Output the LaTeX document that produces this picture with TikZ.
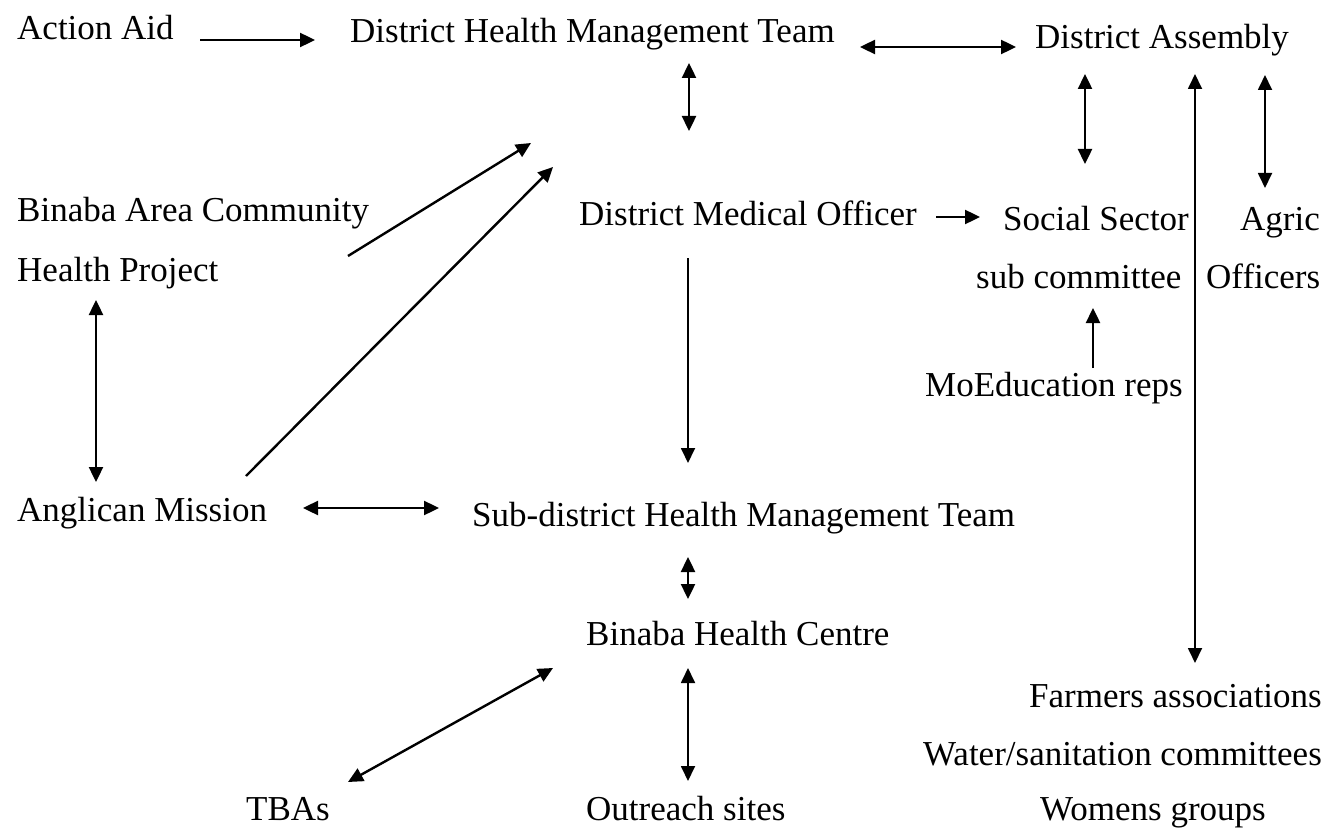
\documentclass[tikz,border=0pt]{standalone}
\usepackage{fontspec}
\setmainfont{Liberation Serif}
\usetikzlibrary{arrows.meta}
\begin{document}
\begin{tikzpicture}[x=1pt,y=-1pt,
  lbl/.style={inner sep=0pt,anchor=base west,font=\fontsize{35}{40}\selectfont},
  lblr/.style={lbl,anchor=base east},
  tip/.style={line width=2.4pt},
  one/.style={tip,-{Triangle[length=15pt,width=14pt]}},
  two/.style={tip,{Triangle[length=15pt,width=14pt]}-{Triangle[length=15pt,width=14pt]}},
  thin/.style={line width=1.8pt}]
\useasboundingbox (0,0) rectangle (1331,832);
% labels
\node[lbl] (aa)   at (17,40)   {Action Aid};
\node[lbl] (dhmt) at (350,43)  {District Health Management Team};
\node[lbl] (da)   at (1035,49) {District Assembly};
\node[lbl] (bac)  at (17,221)  {Binaba Area Community};
\node[lbl] (hp)   at (17,281)  {Health Project};
\node[lbl] (dmo)  at (579,225) {District Medical Officer};
\node[lbl] (ss)   at (1003,230){Social Sector};
\node[lbl] (agric) at (1240,230){Agric};
\node[lbl] (subc) at (976,288) {sub committee};
\node[lbl] (off)  at (1206,288){Officers};
\node[lbl] (moe)  at (925,396) {MoEducation reps};
\node[lbl] (am)   at (17,521)  {Anglican Mission};
\node[lbl] (sd)   at (472,526) {Sub-district Health Management Team};
\node[lbl] (bhc)  at (586,645) {Binaba Health Centre};
\node[lbl] (tba)  at (246,820) {TBAs};
\node[lbl] (out)  at (586,820) {Outreach sites};
\node[lblr] (farm) at (1322,707) {Farmers associations};
\node[lblr] (wat)  at (1322,765) {Water/sanitation committees};
\node[lbl] (wom)  at (1040,820) {Womens groups};
% connector end points
\coordinate (aaE) at (200,40);   \coordinate (dhmtW) at (315,40);
\coordinate (dhmtE) at (860,47); \coordinate (daW) at (1016,47);
\coordinate (dhmtS) at (689,63); \coordinate (dmoN) at (689,131);
\coordinate (bacE) at (348,256); \coordinate (dhmtA) at (531,143);
\coordinate (amNE) at (246,476); \coordinate (dhmtB) at (553,167);
\coordinate (hpS) at (96,300);   \coordinate (amN) at (96,482);
\coordinate (amE) at (303,508);  \coordinate (sdW) at (439,508);
\coordinate (dmoS) at (688,258); \coordinate (sdN) at (688,463);
\coordinate (dmoE) at (936,217); \coordinate (ssW) at (980,217);
\coordinate (daS1) at (1085,74); \coordinate (ssN) at (1085,164);
\coordinate (daS2) at (1195,74); \coordinate (farmN) at (1195,663);
\coordinate (daS3) at (1265,75); \coordinate (agricN) at (1265,188);
\coordinate (moeN) at (1093,368); \coordinate (subcS) at (1093,308);
\coordinate (sdS) at (688,557);  \coordinate (bhcN) at (688,599);
\coordinate (bhcS) at (688,668); \coordinate (outN) at (688,781);
\coordinate (tbaN) at (348,782); \coordinate (bhcW) at (553,668);
% connectors
\draw[one] (aaE) -- (dhmtW);
\draw[two] (dhmtE) -- (daW);
\draw[two] (dhmtS) -- (dmoN);
\draw[one] (bacE) -- (dhmtA);
\draw[one] (amNE) -- (dhmtB);
\draw[two] (hpS) -- (amN);
\draw[two] (amE) -- (sdW);
\draw[one,thin] (dmoS) -- (sdN);
\draw[one] (dmoE) -- (ssW);
\draw[two] (daS1) -- (ssN);
\draw[two,thin] (daS2) -- (farmN);
\draw[two,thin] (daS3) -- (agricN);
\draw[one] (moeN) -- (subcS);
\draw[two] (sdS) -- (bhcN);
\draw[two,thin] (bhcS) -- (outN);
\draw[two] (tbaN) -- (bhcW);
\end{tikzpicture}
\end{document}
